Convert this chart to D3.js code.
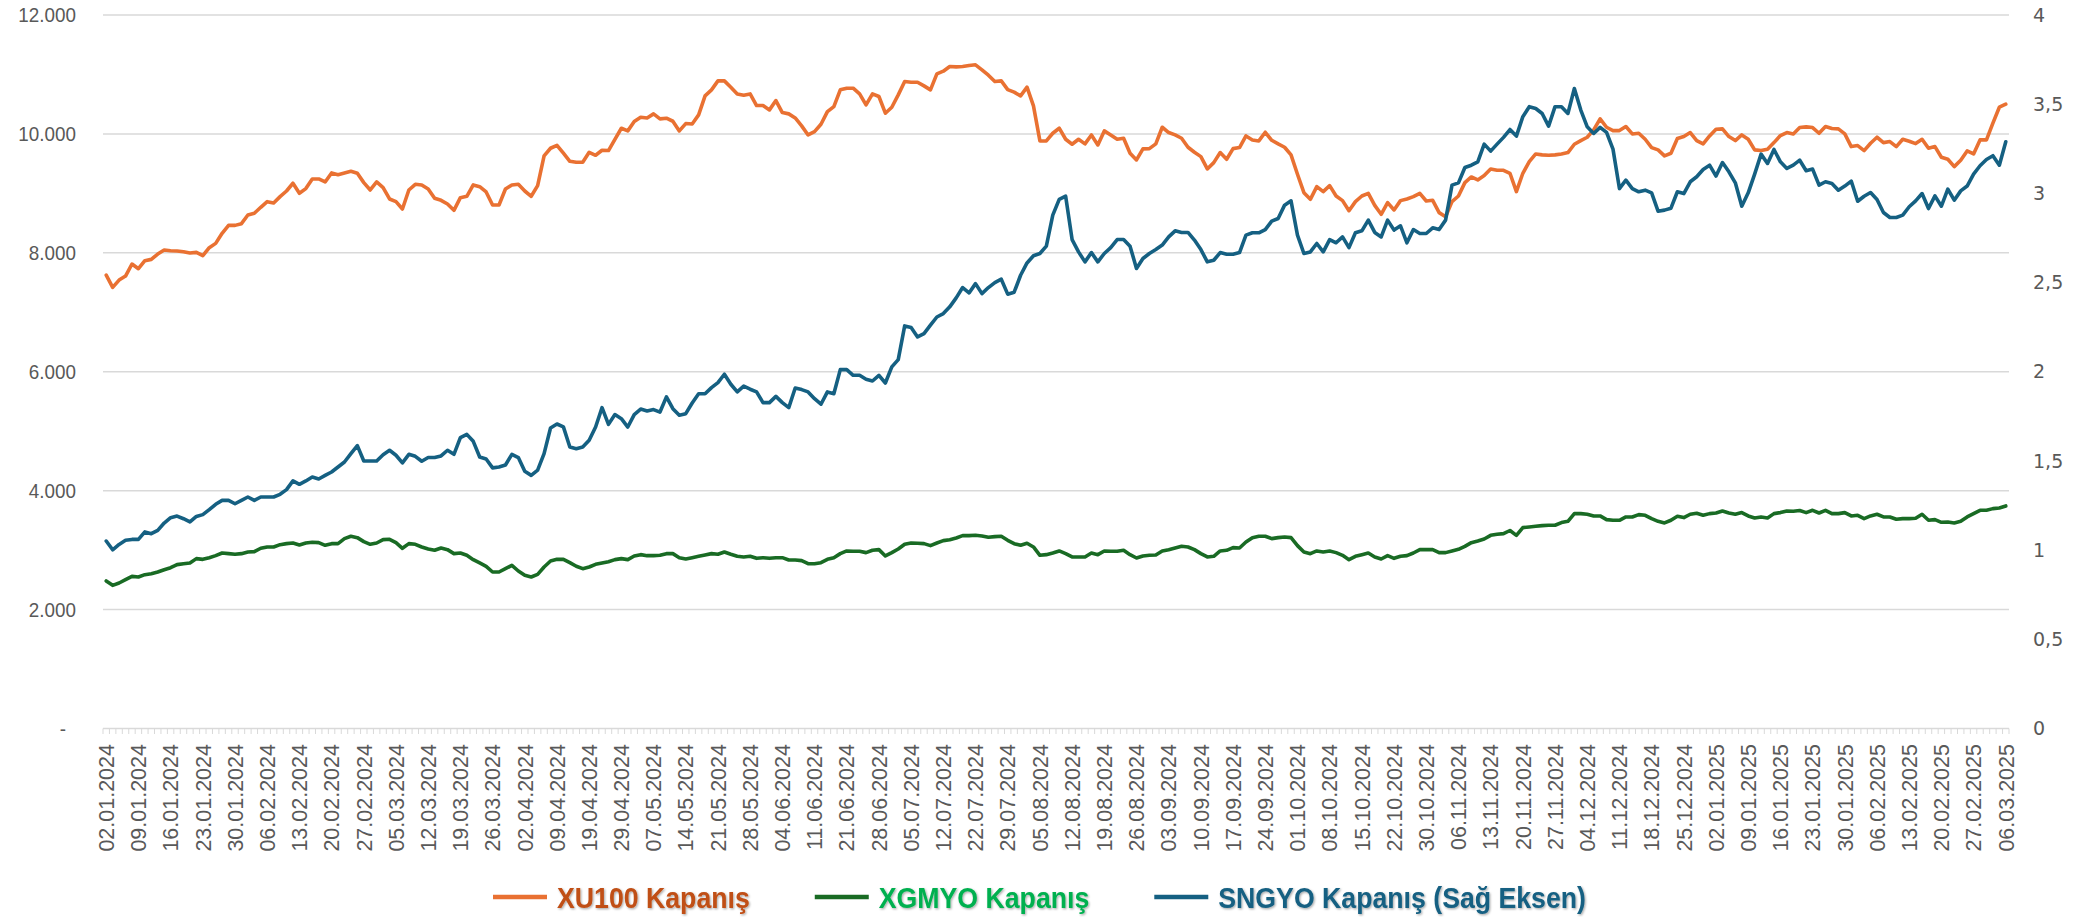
<!DOCTYPE html>
<html>
<head>
<meta charset="utf-8">
<script src="https://cdn.jsdelivr.net/npm/d3@7"></script>
<style>
  body { margin: 0; background: #fff; }
  svg { display: block; }
</style>
</head>
<body>
<div id="chart"></div>
<script>
var svgwidth = 2081;
var svgheight = 917;
var margin = { top: 15, bottom: 188.5, left: 103, right: 72 };

// tick labels, one every 5 trading days
var dateLabels = [
  "02.01.2024","09.01.2024","16.01.2024","23.01.2024","30.01.2024","06.02.2024","13.02.2024","20.02.2024",
  "27.02.2024","05.03.2024","12.03.2024","19.03.2024","26.03.2024","02.04.2024","09.04.2024","19.04.2024",
  "29.04.2024","07.05.2024","14.05.2024","21.05.2024","28.05.2024","04.06.2024","11.06.2024","21.06.2024",
  "28.06.2024","05.07.2024","12.07.2024","22.07.2024","29.07.2024","05.08.2024","12.08.2024","19.08.2024",
  "26.08.2024","03.09.2024","10.09.2024","17.09.2024","24.09.2024","01.10.2024","08.10.2024","15.10.2024",
  "22.10.2024","30.10.2024","06.11.2024","13.11.2024","20.11.2024","27.11.2024","04.12.2024","11.12.2024",
  "18.12.2024","25.12.2024","02.01.2025","09.01.2025","16.01.2025","23.01.2025","30.01.2025","06.02.2025",
  "13.02.2025","20.02.2025","27.02.2025","06.03.2025"
];

// XU100 closing (left axis)
var xu100 = [
  7626,7419,7542,7609,7812,7733,7868,7890,7980,8047,
  8036,8030,8019,7997,8008,7952,8086,8159,8328,8462,
  8462,8491,8636,8665,8766,8861,8838,8945,9040,9170,
  9001,9080,9243,9243,9192,9344,9315,9344,9372,9338,
  9181,9057,9192,9097,8906,8861,8737,9057,9153,9142,
  9074,8917,8883,8822,8715,8928,8951,9142,9113,9024,
  8805,8805,9074,9142,9153,9040,8951,9130,9630,9759,
  9809,9675,9540,
  9523,9523,9691,9641,9725,9720,9910,
  10095,10051,10208,10281,10269,10337,10253,10264,10213,10051,
  10174,10168,10320,10640,10741,10892,10892,10786,10673,10651,
  10673,10477,10477,10404,10561,10359,10337,10269,10135,9983,
  10039,10163,10376,10460,10741,10769,10769,10673,10488,10673,
  10629,10348,10449,10657,10881,10870,10870,10808,10741,11010,
  11055,11134,11128,11134,11151,11162,11078,10988,10881,10892,
  10746,10702,10640,10786,10472,9882,9882,10011,
  10096,9910,9826,9910,9832,9983,9815,10051,9983,9910,
  9927,9675,9562,9748,9753,9832,10112,10023,9983,9927,
  9776,9691,9618,9411,9517,9686,9574,9753,9770,9966,
  9899,9882,10028,9893,9832,9776,9647,9321,9012,8900,
  9113,9029,9130,8956,8878,8709,8861,8956,9001,8799,
  8648,8844,8721,8878,8906,8945,9001,8872,8883,8676,
  8608,8861,8956,9181,9276,9226,9299,9411,9388,9388,
  9338,9029,9338,9534,9663,9647,9641,9647,9663,9686,
  9826,9888,9944,10067,10253,10112,10056,10056,10124,10000,
  10011,9910,9770,9731,9630,9675,9922,9955,10023,9888,
  9832,9966,10079,10084,9955,9888,9983,9910,9731,9720,
  9742,9854,9972,10023,10000,10107,10118,10107,10011,10124,
  10090,10084,10000,9787,9804,9720,9843,9944,9854,9871,
  9787,9910,9877,9837,9910,9759,9787,9607,9574,9450,
  9557,9714,9663,9899,9899,10180,10449,10500
];

// XGMYO closing (left axis)
var xgmyo = [
  2481,2408,2447,2503,2559,2548,2587,2604,2632,2671,
  2705,2756,2772,2784,2857,2845,2873,2907,2952,2941,
  2930,2941,2969,2974,3031,3053,3053,3092,3109,3120,
  3087,3120,3132,3126,3081,3109,3109,3193,3233,3210,
  3143,3098,3120,3176,3182,3126,3031,3109,3098,3053,
  3019,2997,3036,3008,2941,2952,2913,2840,2784,2728,
  2632,2632,2688,2744,2649,2576,2548,2593,2716,2817,
  2845,2845,2789,2728,2688,2716,2761,2784,2806,2840,
  2857,2840,2902,2924,2907,2907,2913,2941,2941,2873,
  2851,2873,2896,2918,2941,2930,2969,2930,2896,2885,
  2896,2862,2873,2862,2873,2873,2834,2834,2823,2772,
  2772,2789,2845,2873,2941,2986,2980,2980,2958,2997,
  3008,2902,2958,3019,3098,3120,3115,3109,3076,3120,
  3160,3176,3204,3244,3244,3249,3238,3216,3227,3233,
  3165,3109,3081,3115,3053,
  2913,2924,2952,2986,2941,2885,2885,2885,2952,2924,
  2986,2980,2980,2997,2924,2868,2902,2913,2918,2986,
  3008,3036,3064,3053,3008,2941,2885,2896,2986,2997,
  3042,3036,3137,3210,3233,3233,3193,3210,3221,3210,
  3076,2969,2941,2986,2969,2986,2958,2913,2840,2896,
  2924,2952,2885,2851,2907,2862,2896,2907,2952,3008,
  3008,3008,2958,2958,2986,3014,3064,3126,3154,3188,
  3249,3266,3277,
  3330,3249,3379,3390,3401,3412,3418,3418,3463,3485,
  3614,3614,3603,3575,3575,3513,3502,3502,3558,3558,
  3597,3586,3530,3485,3457,3502,3569,3547,3603,3620,
  3586,3614,3625,3659,3625,3603,3631,3575,3541,3558,
  3541,3614,3631,3659,3653,3665,3631,3670,3625,3670,
  3614,3614,3631,3575,3586,3530,3575,3603,3558,3558,
  3519,3530,3530,3536,3603,3502,3513,3468,3474,3457,
  3485,3558,3614,3670,3670,3698,3709,3743
];

// SNGYO closing (right axis)
var sngyo = [
  1.051,1.002,1.032,1.055,1.060,1.060,1.102,1.092,1.111,1.152,
  1.182,1.191,1.176,1.158,1.189,1.199,1.227,1.257,1.279,1.279,
  1.260,1.279,1.298,1.279,1.298,1.298,1.298,1.313,1.339,1.388,
  1.369,1.388,1.410,1.399,1.419,1.438,1.466,1.494,1.541,1.586,
  1.500,1.500,1.500,1.535,1.560,1.532,1.489,1.537,1.526,1.498,
  1.519,1.519,1.528,1.560,1.537,1.631,1.649,1.610,1.522,1.511,
  1.461,1.466,1.477,1.537,1.519,1.442,1.419,1.448,1.541,1.685,
  1.707,1.691,1.578,
  1.569,1.578,1.616,1.690,1.799,1.705,1.760,
  1.737,1.690,1.760,1.791,1.780,1.788,1.774,1.859,1.793,1.756,
  1.765,1.825,1.877,1.877,1.911,1.939,1.986,1.930,1.887,1.919,
  1.902,1.887,1.827,1.827,1.862,1.827,1.799,1.909,1.900,1.887,
  1.849,1.818,1.887,1.877,2.012,2.012,1.980,1.980,1.958,1.948,
  1.980,1.937,2.027,2.068,2.257,2.248,2.195,2.214,2.261,2.307,
  2.326,2.364,2.414,2.472,2.442,2.494,2.438,2.472,2.500,2.519,
  2.435,2.446,2.541,2.610,
  2.650,2.663,2.704,2.878,2.966,2.984,2.741,2.672,2.616,2.668,
  2.616,2.663,2.696,2.741,2.741,2.704,2.579,2.635,2.663,2.685,
  2.710,2.756,2.790,2.781,2.781,2.738,2.685,2.616,2.625,2.668,
  2.659,2.659,2.668,2.766,2.779,2.779,2.797,2.844,2.859,2.934,
  2.958,2.766,2.663,2.672,2.719,2.672,2.741,2.723,2.756,2.696,
  2.779,2.790,2.850,2.781,2.756,2.850,2.794,2.818,2.723,2.797,
  2.775,2.775,2.807,2.797,2.850,3.046,3.059,3.145,3.158,3.177,
  3.276,3.237,3.276,3.314,
  3.358,3.321,3.430,3.486,3.476,3.448,3.377,3.486,3.486,3.448,
  3.588,3.467,3.373,3.336,3.370,3.342,3.248,3.027,3.074,3.027,
  3.009,3.018,3.003,2.900,2.906,2.917,3.009,2.999,3.065,3.093,
  3.134,3.158,3.097,3.173,3.121,3.059,2.928,3.003,3.108,3.220,
  3.168,3.246,3.177,3.140,3.158,3.186,3.127,3.136,3.046,3.065,
  3.056,3.018,3.041,3.069,2.956,2.984,3.005,2.966,2.893,2.865,
  2.865,2.878,2.925,2.958,2.999,2.915,2.986,2.928,3.024,2.962,
  3.014,3.041,3.108,3.155,3.190,3.211,3.158,3.289
];

var leftTicks = [0, 2000, 4000, 6000, 8000, 10000, 12000];
var rightTicks = [0, 0.5, 1, 1.5, 2, 2.5, 3, 3.5, 4];

var series = [
  { name: "XU100 Kapanış", values: xu100, axis: "left", color: "#E97132", text: "#C04F15" },
  { name: "XGMYO Kapanış", values: xgmyo, axis: "left", color: "#196B24", text: "#00B050" },
  { name: "SNGYO Kapanış (Sağ Eksen)", values: sngyo, axis: "right", color: "#156082", text: "#156082" }
];

var width = svgwidth - margin.left - margin.right;
var height = svgheight - margin.top - margin.bottom;
var narrow = 0.89; // no narrow font installed, squeeze the bold legend / axis text

var trLocale = d3.formatLocale({ decimal: ",", thousands: ".", grouping: [3], currency: ["", ""] });

var svg = d3.select("#chart").append("svg").attr("width", svgwidth).attr("height", svgheight);

var defs = svg.append("defs");
var shadow = defs.append("filter").attr("id", "shadow").attr("x", "-5%").attr("y", "-20%").attr("width", "110%").attr("height", "150%");
shadow.append("feDropShadow").attr("dx", 1.2).attr("dy", 1.2).attr("stdDeviation", 1).attr("flood-color", "#000").attr("flood-opacity", 0.35);

var chartGroup = svg.append("g").attr("transform", `translate(${margin.left}, ${margin.top})`);

var idx = d3.range(xu100.length);
var xPoint = d3.scalePoint().domain(idx).range([0, width]).padding(0.5);
var step = xPoint.step();

var yLeft = d3.scaleLinear().domain([0, 12000]).range([height, 0]);
var yRight = d3.scaleLinear().domain([0, 4]).range([height, 0]);

// gridlines
chartGroup.append("g")
  .selectAll("line")
  .data(leftTicks.filter(d => d > 0))
  .enter()
  .append("line")
  .attr("x1", 0).attr("x2", width)
  .attr("y1", d => yLeft(d)).attr("y2", d => yLeft(d))
  .attr("stroke", "#d9d9d9").attr("stroke-width", 1.5);

// left axis
var leftAxis = d3.axisLeft(yLeft)
  .tickValues(leftTicks)
  .tickSize(0)
  .tickPadding(27)
  .tickFormat(d => d === 0 ? "-" : trLocale.format(",d")(d));
var gLeft = chartGroup.append("g").call(leftAxis);
gLeft.select(".domain").remove();
gLeft.selectAll("text")
  .attr("fill", "#595959")
  .attr("x", -27 / 0.92)
  .attr("transform", "scale(0.92,1)")
  .style("font-family", "'Liberation Sans', Arial, sans-serif")
  .style("font-size", "20.5px");
gLeft.selectAll(".tick").filter(d => d === 0).select("text").attr("x", -37 / 0.92);

// right axis
var rightAxis = d3.axisRight(yRight)
  .tickValues(rightTicks)
  .tickSize(0)
  .tickPadding(24)
  .tickFormat(trLocale.format(","));
var gRight = chartGroup.append("g").attr("transform", `translate(${width}, 0)`).call(rightAxis);
gRight.select(".domain").remove();
gRight.selectAll("text")
  .attr("fill", "#595959")
  .style("font-family", "'DejaVu Sans', sans-serif")
  .style("font-size", "19px");

// bottom axis: line, a tick per category, label every 5th
var gBottom = chartGroup.append("g").attr("transform", `translate(0, ${height})`);
gBottom.append("line")
  .attr("x1", 0).attr("x2", width).attr("y1", 0).attr("y2", 0)
  .attr("stroke", "#d9d9d9").attr("stroke-width", 1.5);
gBottom.selectAll(".cat-tick")
  .data(d3.range(idx.length + 1))
  .enter()
  .append("line")
  .attr("class", "cat-tick")
  .attr("x1", d => d * step).attr("x2", d => d * step)
  .attr("y1", 0).attr("y2", 5.5)
  .attr("stroke", "#d9d9d9").attr("stroke-width", 1);
gBottom.selectAll(".date-label")
  .data(dateLabels)
  .enter()
  .append("text")
  .attr("class", "date-label")
  .attr("transform", (d, k) => `translate(${xPoint(k * 5)}, 15.5) rotate(-90)`)
  .attr("dy", "0.36em")
  .attr("text-anchor", "end")
  .attr("fill", "#595959")
  .style("font-family", "'Liberation Sans', Arial, sans-serif")
  .style("font-size", "21.5px")
  .text(d => d);

// series lines
series.forEach(function(s) {
  var yScale = s.axis === "left" ? yLeft : yRight;
  var line = d3.line()
    .x((d, i) => xPoint(i))
    .y(d => yScale(d));
  chartGroup.append("path")
    .datum(s.values)
    .attr("fill", "none")
    .attr("stroke", s.color)
    .attr("stroke-width", 3.6)
    .attr("stroke-linejoin", "round")
    .attr("stroke-linecap", "round")
    .attr("d", line);
});

// legend
var legend = svg.append("g").attr("transform", "translate(0, 897)");
var cursor = 493;
series.forEach(function(s) {
  legend.append("line")
    .attr("x1", cursor).attr("x2", cursor + 54)
    .attr("y1", 0).attr("y2", 0)
    .attr("stroke", s.color).attr("stroke-width", 4.5);
  var t = legend.append("g")
    .attr("transform", `translate(${cursor + 64}, 0) scale(${narrow}, 1)`)
    .append("text")
    .attr("dy", "0.36em")
    .attr("fill", s.text)
    .attr("filter", "url(#shadow)")
    .style("font-family", "'Liberation Sans', Arial, sans-serif")
    .style("font-weight", "bold")
    .style("font-size", "30px")
    .text(s.name);
  cursor = cursor + 64 + t.node().getComputedTextLength() * narrow + 65;
});
</script>
</body>
</html>
